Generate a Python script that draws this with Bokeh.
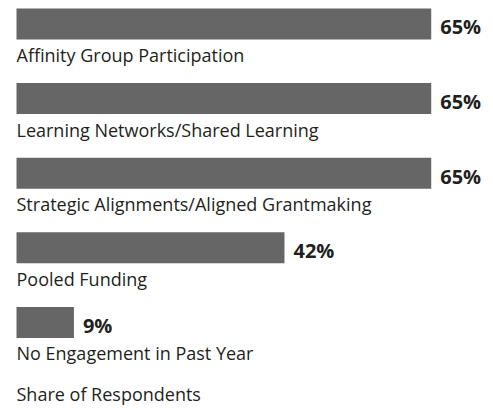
from bokeh.plotting import figure
from bokeh.models import Range1d, ColumnDataSource
from bokeh.core.properties import value
from bokeh.embed import file_html
from bokeh.resources import INLINE

categories = [
    "Affinity Group Participation",
    "Learning Networks/Shared Learning",
    "Strategic Alignments/Aligned Grantmaking",
    "Pooled Funding",
    "No Engagement in Past Year",
]
shares = [65, 65, 65, 42, 9]
value_labels = ["65%", "65%", "65%", "42%", "9%"]
axis_title = "Share of Respondents"

BAR = "#656665"
INK = "#231f20"
FONT = "Open Sans"

rows = list(range(len(categories)))
src = ColumnDataSource(dict(y=rows, share=shares, cat=categories, lab=value_labels))

p = figure(width=493, height=408, output_backend="svg", toolbar_location=None,
           x_range=Range1d(-2.508, 74.76), y_range=Range1d(5.154, -0.315),
           min_border=0, min_border_left=0, min_border_right=0,
           min_border_top=0, min_border_bottom=0)
p.outline_line_color = None
p.axis.visible = False
p.grid.visible = False
p.background_fill_color = "white"
p.border_fill_color = "white"

p.hbar(y="y", left=0, right="share", height=0.4155, source=src,
       fill_color=BAR, line_color=None)

p.text(x=0, y="y", text="cat", source=src, y_offset=31,
       text_font=value(FONT), text_font_size="18px", text_color=INK,
       text_baseline="alphabetic", text_align="left")

p.text(x="share", y="y", text="lab", source=src, x_offset=9, y_offset=3,
       text_font=value(FONT), text_font_size="20px", text_font_style="bold",
       text_color=INK, text_baseline="alphabetic", text_align="left")

p.text(x=[0], y=[rows[-1]], text=[axis_title], y_offset=72,
       text_font=value(FONT), text_font_size="18px", text_color=INK,
       text_baseline="alphabetic", text_align="left")

open("out.html", "w").write(file_html(p, INLINE))
